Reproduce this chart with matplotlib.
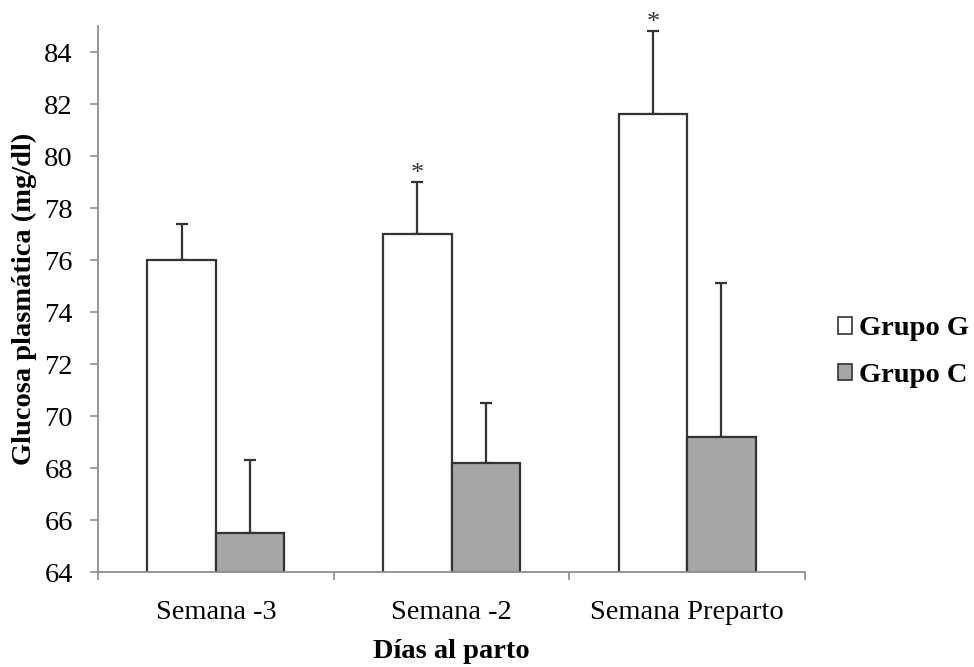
import matplotlib
matplotlib.use("Agg")
import matplotlib.pyplot as plt
import numpy as np
from matplotlib.patches import Patch

categorias = ["Semana -3", "Semana -2", "Semana Preparto"]
grupo_g = [76.0, 77.0, 81.6]
grupo_g_err = [1.4, 2.0, 3.2]
grupo_c = [65.5, 68.2, 69.2]
grupo_c_err = [2.8, 2.3, 5.9]
signif = [False, True, True]

plt.rcParams['font.family'] = ['Liberation Serif', 'DejaVu Serif']

fig = plt.figure(figsize=(9.74, 6.67), dpi=100)
ax = fig.add_axes([0.1006, 0.1424, 0.726, 0.8186])

x = np.arange(len(categorias))
w = 0.29
edge = "#333333"
ax.bar(x - w / 2, grupo_g, w, bottom=0, color="white", edgecolor=edge, linewidth=1.6, zorder=2)
ax.bar(x + w / 2, grupo_c, w, bottom=0, color="#a6a6a6", edgecolor=edge, linewidth=1.6, zorder=2)

ax.errorbar(x - w / 2, grupo_g, yerr=[np.zeros(3), grupo_g_err], fmt="none",
            ecolor=edge, elinewidth=1.6, capsize=4, capthick=1.6, zorder=1)
ax.errorbar(x + w / 2, grupo_c, yerr=[np.zeros(3), grupo_c_err], fmt="none",
            ecolor=edge, elinewidth=1.6, capsize=4, capthick=1.6, zorder=1)

for i in range(len(categorias)):
    if signif[i]:
        ax.text(x[i] - w / 2, grupo_g[i] + grupo_g_err[i] - 0.1, "*",
                ha="center", va="bottom", fontsize=19, color="#333333")

ax.set_xlim(-0.5, 2.5)
ax.set_ylim(64, 85)
ax.set_yticks(np.arange(64, 85, 2))
ax.set_xticks(x)
ax.set_xticklabels(categorias)
ax.set_xticks([-0.5, 0.5, 1.5, 2.5], minor=True)

for s in ["top", "right"]:
    ax.spines[s].set_visible(False)
for s in ["left", "bottom"]:
    ax.spines[s].set_color("#8c8c8c")
    ax.spines[s].set_linewidth(1.3)

ax.tick_params(axis="y", direction="out", length=6, width=1.2, color="#8c8c8c",
               labelsize=20.5, pad=12)
ax.tick_params(axis="x", which="major", length=0, labelsize=20.5, pad=20)
ax.tick_params(axis="x", which="minor", direction="out", length=6, width=1.2, color="#8c8c8c")

ax.set_ylabel("Glucosa plasmática (mg/dl)", fontsize=20.5, fontweight="bold", labelpad=5)
ax.set_xlabel("Días al parto", fontsize=20.5, fontweight="bold", labelpad=10)

handles = [Patch(facecolor="white", edgecolor=edge, linewidth=1.2, label="Grupo G"),
           Patch(facecolor="#a6a6a6", edgecolor=edge, linewidth=1.2, label="Grupo C")]
fig.legend(handles=handles, loc="center left", bbox_to_anchor=(0.860, 0.472),
           frameon=False, handlelength=0.5, handleheight=0.5, handletextpad=0.25,
           borderpad=0, borderaxespad=0, labelspacing=0.75,
           prop={"size": 20.5, "weight": "bold"})

fig.savefig("out.png", dpi=100)
